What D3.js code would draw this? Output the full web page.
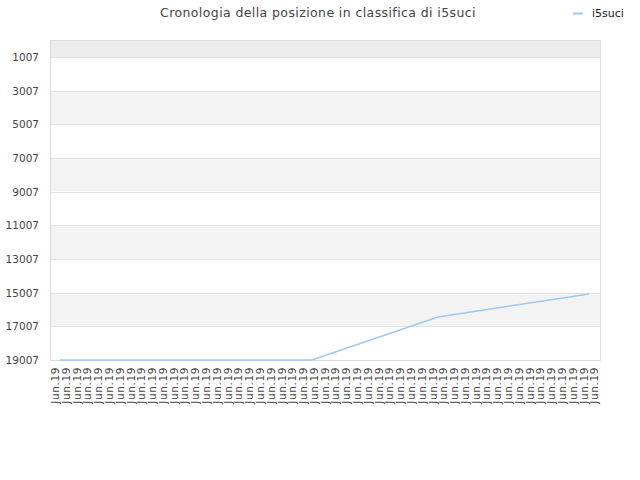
<!DOCTYPE html>
<html>
<head>
<meta charset="utf-8">
<script src="https://cdn.jsdelivr.net/npm/d3@7"></script>
<style>
    body { margin: 0; background: #fff; }
    svg { font-family: "DejaVu Sans", sans-serif; }
</style>
</head>
<body>
<svg id="chart" width="640" height="480"></svg>
<script>
// --- data ---
const title = "Cronologia della posizione in classifica di i5suci";
const seriesName = "i5suci";
const xLabels = Array.from({ length: 51 }, () => "Jun.19");
const yTicks = [1007, 3007, 5007, 7007, 9007, 11007, 13007, 15007, 17007, 19007];
// day offset of each recorded point and the rank on that day
const days = [0, 20, 30, 42];
const ranks = [19007, 19007, 16450, 15090];

const margin = { top: 40, right: 40, bottom: 120, left: 50 };
const width = 640 - margin.left - margin.right;
const height = 480 - margin.top - margin.bottom;

const svg = d3.select("#chart");

// title
svg.append("text")
    .attr("x", 318)
    .attr("y", 17)
    .attr("text-anchor", "middle")
    .style("font-size", "12.5px")
    .style("letter-spacing", "0.4px")
    .style("fill", "#444")
    .text(title);

// legend
svg.append("line")
    .attr("x1", 573).attr("x2", 583)
    .attr("y1", 13.5).attr("y2", 13.5)
    .attr("stroke", "#9ec7f3")
    .attr("stroke-width", 2);
svg.append("text")
    .attr("x", 592)
    .attr("y", 17)
    .style("font-size", "11px")
    .style("fill", "#222")
    .text(seriesName);

const g = svg.append("g")
    .attr("transform", `translate(${margin.left},${margin.top})`);

const y = d3.scaleLinear()
    .domain([0, 19007])
    .range([0, height]);

const x = d3.scaleBand()
    .domain(d3.range(xLabels.length))
    .range([0, width]);

const xLine = d3.scaleLinear()
    .domain([0, 42])
    .range([10, 539]);

// alternating bands
const edges = [0].concat(yTicks);
for (let i = 0; i < edges.length - 1; i++) {
    let fill = i % 2 === 0 ? "#f3f3f3" : "#ffffff";
    if (i === 0) fill = "#ececec";
    g.append("rect")
        .attr("x", 0)
        .attr("width", width)
        .attr("y", y(edges[i]))
        .attr("height", y(edges[i + 1]) - y(edges[i]))
        .attr("fill", fill);
}

// grid lines
g.selectAll(".grid")
    .data(yTicks)
    .enter()
    .append("line")
    .attr("x1", 0)
    .attr("x2", width)
    .attr("y1", (d) => Math.round(y(d)) + 0.5)
    .attr("y2", (d) => Math.round(y(d)) + 0.5)
    .attr("stroke", "#e2e2e2");

// frame
g.append("rect")
    .attr("x", 0.5)
    .attr("y", 0.5)
    .attr("width", width)
    .attr("height", height)
    .attr("fill", "none")
    .attr("stroke", "#dcdcdc");

// y axis
const yAxis = g.append("g")
    .call(d3.axisLeft(y).tickValues(yTicks).tickFormat(d3.format("d")).tickSize(0).tickPadding(11));
yAxis.select(".domain").remove();
yAxis.selectAll("text")
    .style("font-size", "10.5px")
    .style("fill", "#444")
    .style("font-family", "DejaVu Sans, sans-serif");

// x axis
const xAxis = g.append("g")
    .attr("transform", `translate(0,${height})`)
    .call(d3.axisBottom(x).tickFormat((i) => xLabels[i]).tickSize(0));
xAxis.select(".domain").remove();
xAxis.selectAll("text")
    .attr("transform", "rotate(-90)")
    .attr("text-anchor", "end")
    .attr("x", -7)
    .attr("y", 0)
    .attr("dy", "0.35em")
    .style("font-size", "10.5px")
    .style("letter-spacing", "0.6px")
    .style("fill", "#444")
    .style("font-family", "DejaVu Sans, sans-serif");

// line
const line = d3.line()
    .x((d, i) => xLine(days[i]))
    .y((d) => y(d));

g.append("path")
    .datum(ranks)
    .attr("d", line)
    .attr("fill", "none")
    .attr("stroke", "#9ec7f3")
    .attr("stroke-width", 1.5);
</script>
</body>
</html>
